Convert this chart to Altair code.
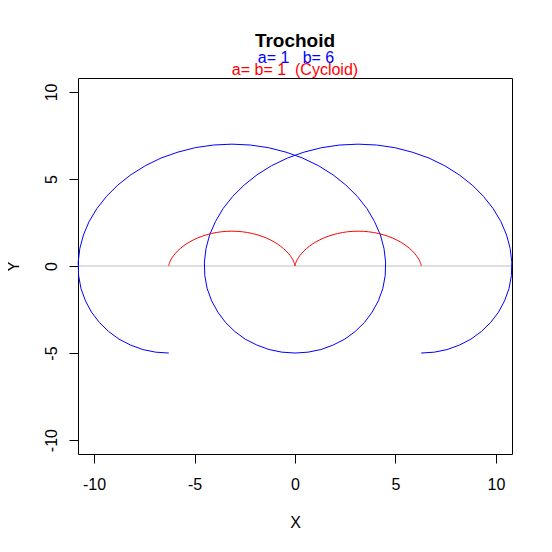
import altair as alt
import pandas as pd

# Trochoid a=1, b=6 (in drawing order)
troch_x = [-6.28, -6.94, -7.57, -8.19, -8.76, -9.28, -9.74, -10.13, -10.43, -10.65, -10.77, -10.79,
           -10.71, -10.53, -10.25, -9.86, -9.38, -8.82, -8.17, -7.45, -6.67, -5.83, -4.96, -4.06,
           -3.14, -2.23, -1.33, -0.45, 0.38, 1.17, 1.89, 2.53, 3.10, 3.58, 3.96, 4.25,
           4.43, 4.51, 4.49, 4.37, 4.15, 3.84, 3.46, 3.00, 2.48, 1.90, 1.29, 0.65,
           0.00,
           -0.65, -1.29, -1.90, -2.48, -3.00, -3.46, -3.84, -4.15, -4.37, -4.49, -4.51, -4.43,
           -4.25, -3.96, -3.58, -3.10, -2.53, -1.89, -1.17, -0.38, 0.45, 1.33, 2.23, 3.14,
           4.06, 4.96, 5.83, 6.67, 7.45, 8.17, 8.82, 9.38, 9.86, 10.25, 10.53, 10.71,
           10.79, 10.77, 10.65, 10.43, 10.13, 9.74, 9.28, 8.76, 8.19, 7.57, 6.94, 6.28]
troch_y = [-5.00, -4.95, -4.80, -4.54, -4.20, -3.76, -3.24, -2.65, -2.00, -1.30, -0.55, 0.22,
           1.00, 1.78, 2.55, 3.30, 4.00, 4.65, 5.24, 5.76, 6.20, 6.54, 6.80, 6.95,
           7.00, 6.95, 6.80, 6.54, 6.20, 5.76, 5.24, 4.65, 4.00, 3.30, 2.55, 1.78,
           1.00, 0.22, -0.55, -1.30, -2.00, -2.65, -3.24, -3.76, -4.20, -4.54, -4.80, -4.95,
           -5.00,
           -4.95, -4.80, -4.54, -4.20, -3.76, -3.24, -2.65, -2.00, -1.30, -0.55, 0.22, 1.00,
           1.78, 2.55, 3.30, 4.00, 4.65, 5.24, 5.76, 6.20, 6.54, 6.80, 6.95, 7.00,
           6.95, 6.80, 6.54, 6.20, 5.76, 5.24, 4.65, 4.00, 3.30, 2.55, 1.78, 1.00,
           0.22, -0.55, -1.30, -2.00, -2.65, -3.24, -3.76, -4.20, -4.54, -4.80, -4.95, -5.00]

# Cycloid a=b=1 (red curve)
cyc_x = [-6.283, -6.283, -6.280, -6.273, -6.260, -6.237, -6.205, -6.160, -6.102, -6.029, -5.940, -5.835,
         -5.712, -5.573, -5.417, -5.244, -5.055, -4.851, -4.634, -4.405, -4.165, -3.917, -3.662, -3.403,
         -3.142, -2.880, -2.621, -2.366, -2.118, -1.878, -1.649, -1.432, -1.228, -1.040, -0.867, -0.710,
         -0.571, -0.448, -0.343, -0.254, -0.181, -0.123, -0.078, -0.046, -0.024, -0.010, -0.003, 0.000,
         0.000,
         0.000, 0.003, 0.010, 0.024, 0.046, 0.078, 0.123, 0.181, 0.254, 0.343, 0.448, 0.571,
         0.710, 0.867, 1.040, 1.228, 1.432, 1.649, 1.878, 2.118, 2.366, 2.621, 2.880, 3.142,
         3.403, 3.662, 3.917, 4.165, 4.405, 4.634, 4.851, 5.055, 5.244, 5.417, 5.573, 5.712,
         5.835, 5.940, 6.029, 6.102, 6.160, 6.205, 6.237, 6.260, 6.273, 6.280, 6.283, 6.283]
cyc_y = [0.000, 0.009, 0.034, 0.076, 0.134, 0.207, 0.293, 0.391, 0.500, 0.617, 0.741, 0.869,
         1.000, 1.131, 1.259, 1.383, 1.500, 1.609, 1.707, 1.793, 1.866, 1.924, 1.966, 1.991,
         2.000, 1.991, 1.966, 1.924, 1.866, 1.793, 1.707, 1.609, 1.500, 1.383, 1.259, 1.131,
         1.000, 0.869, 0.741, 0.617, 0.500, 0.391, 0.293, 0.207, 0.134, 0.076, 0.034, 0.009,
         0.000,
         0.009, 0.034, 0.076, 0.134, 0.207, 0.293, 0.391, 0.500, 0.617, 0.741, 0.869, 1.000,
         1.131, 1.259, 1.383, 1.500, 1.609, 1.707, 1.793, 1.866, 1.924, 1.966, 1.991, 2.000,
         1.991, 1.966, 1.924, 1.866, 1.793, 1.707, 1.609, 1.500, 1.383, 1.259, 1.131, 1.000,
         0.869, 0.741, 0.617, 0.500, 0.391, 0.293, 0.207, 0.134, 0.076, 0.034, 0.009, 0.000]

x_ticks = [-10, -5, 0, 5, 10]
y_ticks = [-10, -5, 0, 5, 10]
hline = [0]

NB = "\u00a0"
title_text = "Trochoid"
sub1_text = f"a={NB}1{NB}{NB}{NB}b={NB}6"
sub2_text = f"a={NB}b={NB}1{NB}{NB}(Cycloid)"

FONT = "Liberation Sans"
W, H = 434, 376
DOM = [-10.8, 10.8]
LABEL_EXPR = "datum.value < 0 ? '-' + abs(datum.value) : '' + datum.value"

df = pd.DataFrame({
    "x": troch_x + cyc_x,
    "y": troch_y + cyc_y,
    "i": list(range(len(troch_x))) + list(range(len(cyc_x))),
    "s": ["troch"] * len(troch_x) + ["cyc"] * len(cyc_x),
})

xs = alt.Scale(domain=DOM, nice=False, zero=False)
ys = alt.Scale(domain=DOM, nice=False, zero=False)

x_axis = alt.Axis(values=x_ticks, title="X", grid=False, domain=False, tickColor="black",
                  tickSize=9, labelFont=FONT, labelFontSize=16, labelColor="black",
                  labelExpr=LABEL_EXPR, labelBaseline="alphabetic", labelPadding=26,
                  titleFont=FONT, titleFontSize=16, titleFontWeight="normal",
                  titleColor="black", titleX=W / 2, titleY=73, titleBaseline="alphabetic",
                  titleAlign="center")
y_axis = alt.Axis(values=y_ticks, title="Y", grid=False, domain=False, tickColor="black",
                  tickSize=9, labelFont=FONT, labelFontSize=16, labelColor="black",
                  labelExpr=LABEL_EXPR, labelAngle=270, labelAlign="center",
                  labelBaseline="alphabetic", labelPadding=13,
                  titleFont=FONT, titleFontSize=16, titleFontWeight="normal",
                  titleColor="black", titleX=-60, titleY=H / 2, titleAngle=270,
                  titleAlign="center", titleBaseline="alphabetic")

rule = alt.Chart(pd.DataFrame({"y": hline})).mark_rule(color="#BEBEBE", strokeWidth=1).encode(
    y=alt.Y("y:Q", scale=ys, axis=y_axis)
)

lines = alt.Chart(df).mark_line(strokeWidth=1).encode(
    x=alt.X("x:Q", scale=xs, axis=x_axis),
    y=alt.Y("y:Q", scale=ys, axis=y_axis),
    order="i:Q",
    detail="s:N",
    color=alt.Color("s:N", scale=alt.Scale(domain=["troch", "cyc"], range=["#0000FF", "#FF0000"]),
                    legend=None),
)

title = alt.Chart(pd.DataFrame({"t": [title_text]})).mark_text(
    font=FONT, fontSize=19, fontWeight="bold", color="black", align="center", baseline="middle"
).encode(text="t:N", x=alt.value(W / 2), y=alt.value(-37))
sub1 = alt.Chart(pd.DataFrame({"t": [sub1_text]})).mark_text(
    font=FONT, fontSize=16, color="#0000FF", align="center", baseline="middle"
).encode(text="t:N", x=alt.value(W / 2 + 1), y=alt.value(-20))
sub2 = alt.Chart(pd.DataFrame({"t": [sub2_text]})).mark_text(
    font=FONT, fontSize=16, color="#FF0000", align="center", baseline="middle"
).encode(text="t:N", x=alt.value(W / 2), y=alt.value(-8))

chart = alt.layer(rule, lines, title, sub1, sub2).properties(
    width=W, height=H,
    background="white",
    autosize=alt.AutoSizeParams(type="none"),
    padding={"left": 70, "top": 70, "right": 32, "bottom": 90},
).configure_view(stroke="black", strokeWidth=1)

chart.save("out.html", embed_options={"renderer": "svg", "actions": False})
